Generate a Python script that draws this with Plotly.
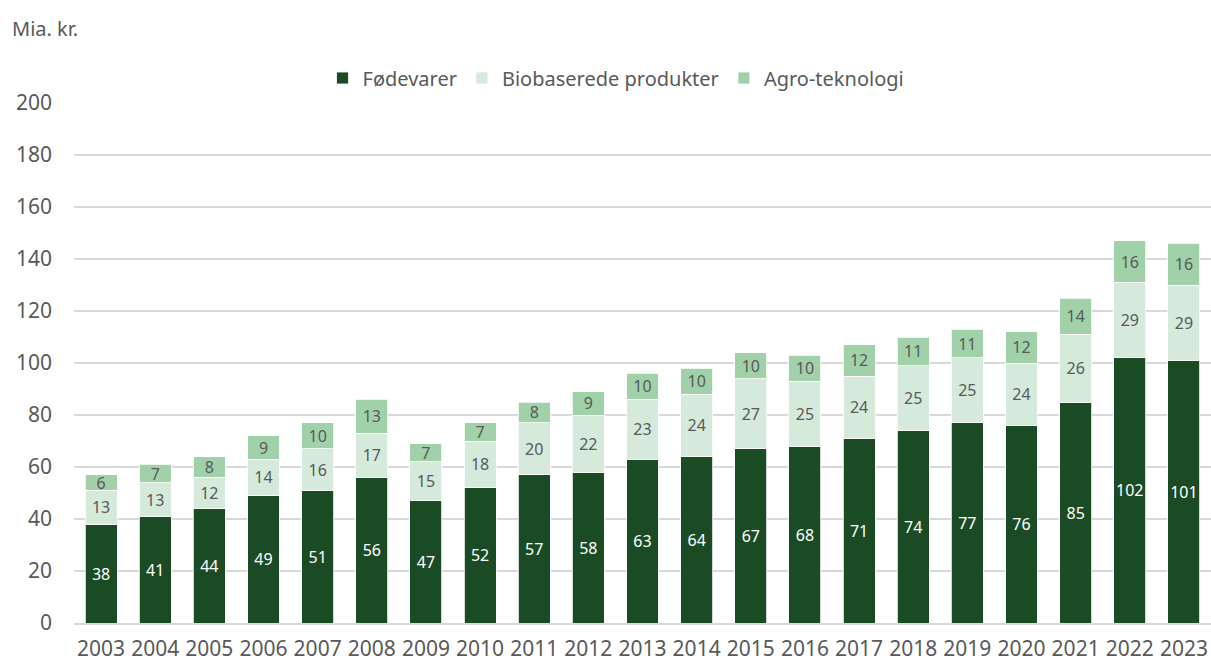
import plotly.graph_objects as go

years = [str(y) for y in range(2003, 2024)]
foedevarer = [38, 41, 44, 49, 51, 56, 47, 52, 57, 58, 63, 64, 67, 68, 71, 74, 77, 76, 85, 102, 101]
biobaserede = [13, 13, 12, 14, 16, 17, 15, 18, 20, 22, 23, 24, 27, 25, 24, 25, 25, 24, 26, 29, 29]
agro = [6, 7, 8, 9, 10, 13, 7, 7, 8, 9, 10, 10, 10, 10, 12, 11, 11, 12, 14, 16, 16]

FONT = 'Noto Sans'
GREY = '#595959'

series = [
    ('Fødevarer', foedevarer, '#1b4b25', 'white'),
    ('Biobaserede produkter', biobaserede, '#d5eadb', GREY),
    ('Agro-teknologi', agro, '#a1d1a9', GREY),
]

fig = go.Figure()
for name, vals, col, txtcol in series:
    fig.add_trace(go.Bar(
        x=years, y=vals, name=name,
        marker=dict(color=col, line=dict(color='white', width=0.8)),
        text=vals, textposition='inside', insidetextanchor='middle',
        textangle=0, textfont=dict(color=txtcol, size=16, family=FONT),
        hoverinfo='skip',
    ))

PW, PH = 1137, 520
fig.update_layout(
    barmode='stack', bargap=0.41,
    width=1211, height=661,
    margin=dict(l=74, r=0, t=103, b=38, autoexpand=False),
    paper_bgcolor='white', plot_bgcolor='white',
    font=dict(family=FONT, color=GREY, size=20),
    uniformtext=dict(minsize=16, mode='show'),
    legend=dict(orientation='h', x=(616 - 74) / PW, xanchor='center',
                y=1 + (103 - 78) / PH, yanchor='middle', itemwidth=30,
                font=dict(size=20, color=GREY), traceorder='normal'),
    annotations=[dict(text='Mia. kr.', xref='paper', yref='paper',
                      x=(10 - 74) / PW, xanchor='left',
                      y=1 + (103 - 28) / PH, yanchor='middle',
                      showarrow=False, font=dict(size=20, color=GREY))],
)
fig.update_yaxes(range=[0, 200], dtick=20, showgrid=True, gridcolor='#d9d9d9',
                 gridwidth=1.5, zeroline=False, showline=False, automargin=False,
                 ticks='', ticklabelstandoff=21, tickfont=dict(size=21))
fig.update_xaxes(showline=True, linecolor='#d9d9d9', linewidth=1.5, ticks='',
                 automargin=False, tickfont=dict(size=21), ticklabelstandoff=6)

# page has a default 8px body margin; drop it so the figure fills the window
fig.write_html('out.html', config={'displayModeBar': False},
               post_script="document.body.style.margin='0';document.body.style.overflow='hidden';")
